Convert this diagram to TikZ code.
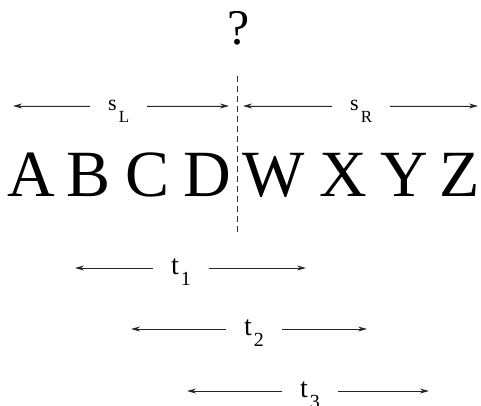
\documentclass[tikz,border=0pt]{standalone}
\usepackage{fontspec}
\setmainfont{Liberation Serif}
\usetikzlibrary{arrows.meta}
\newcommand\fsz[1]{\fontsize{#1}{#1}\selectfont}
\begin{document}
\begin{tikzpicture}[x=1pt,y=-1pt,
  letter/.style={font=\fsz{66}, anchor=base, inner sep=0pt},
  arr/.style={-{Stealth[length=9pt,width=5pt,inset=3pt]}, line width=0.9pt, draw=black!85, fill=black!85},
  slbl/.style={anchor=base west, inner ysep=0pt, inner xsep=18pt, text height=10pt, text depth=0pt},
  tlbl/.style={anchor=base west, inner ysep=0pt, inner xsep=18pt, text height=12pt, text depth=0pt}]
\useasboundingbox (0,0) rectangle (481,406);

% question mark
\node[font=\fsz{50}, anchor=base, inner sep=0pt] (q) at (239,45) {?};

% dashed divider
\coordinate (dtop) at (237.5,76);
\coordinate (dbot) at (237.5,235);
\draw[dash pattern=on 6pt off 4pt, line width=0.9pt, draw=black!80] (dtop) -- (dbot);

% letters
\node[letter] (A) at (31.5,196) {A};
\node[letter] (B) at (89,196) {B};
\node[letter] (C) at (148,196) {C};
\node[letter] (D) at (207.5,196) {D};
\node[letter] (W) at (273.5,196) {W};
\node[letter] (X) at (343,196) {X};
\node[letter] (Y) at (404,196) {Y};
\node[letter] (Z) at (459.5,196) {Z};

% s_L and s_R
\node[slbl] (sL) at (90,111) {{\fsz{22}s}\hspace{2pt}\raisebox{-12pt}{\fsz{17}L}\hspace{2pt}};
\coordinate (sLl) at (13,106);
\coordinate (sLr) at (229,106);
\draw[arr] (sL.west) -- (sLl);
\draw[arr] (sL.east) -- (sLr);

\node[slbl] (sR) at (332,111) {{\fsz{22}s}\hspace{2pt}\raisebox{-12pt}{\fsz{17}R}};
\coordinate (sRl) at (243,106);
\coordinate (sRr) at (478,106);
\draw[arr] (sR.west) -- (sRl);
\draw[arr] (sR.east) -- (sRr);

% t labels
\node[tlbl] (t1) at (153,274) {{\fsz{28}t}\hspace{2pt}\raisebox{-11pt}{\fsz{20}1}};
\coordinate (t1l) at (75,268);
\coordinate (t1r) at (306,268);
\draw[arr] (t1.west) -- (t1l);
\draw[arr] (t1.east) -- (t1r);

\node[tlbl] (t2) at (226,335) {{\fsz{28}t}\hspace{2pt}\raisebox{-11pt}{\fsz{20}2}};
\coordinate (t2l) at (131,329);
\coordinate (t2r) at (367,329);
\draw[arr] (t2.west) -- (t2l);
\draw[arr] (t2.east) -- (t2r);

\node[tlbl] (t3) at (282,397) {{\fsz{28}t}\hspace{2pt}\raisebox{-11pt}{\fsz{20}3}};
\coordinate (t3l) at (187,391);
\coordinate (t3r) at (429,391);
\draw[arr] (t3.west) -- (t3l);
\draw[arr] (t3.east) -- (t3r);
\end{tikzpicture}
\end{document}
